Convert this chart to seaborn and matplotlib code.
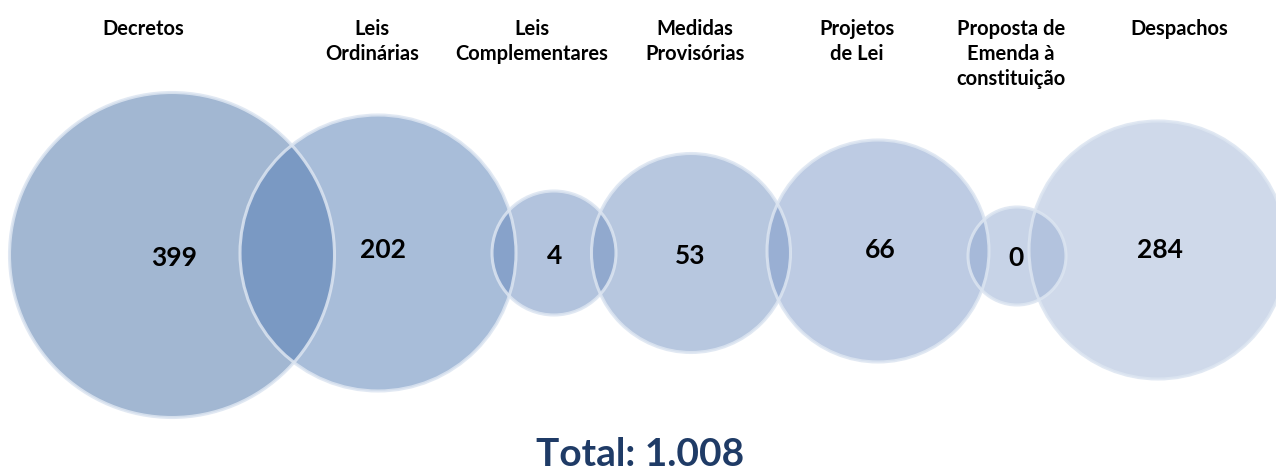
import matplotlib
matplotlib.use("Agg")
import matplotlib.pyplot as plt
import seaborn as sns
import pandas as pd

# Dados do gráfico
tipos = ["Decretos", "Leis Ordinárias", "Leis Complementares", "Medidas Provisórias",
         "Projetos de Lei", "Proposta de Emenda à constituição", "Despachos"]
rotulos = ["Decretos", "Leis\nOrdinárias", "Leis\nComplementares", "Medidas\nProvisórias",
           "Projetos\nde Lei", "Proposta de\nEmenda à\nconstituição", "Despachos"]
quantidades = [399, 202, 4, 53, 66, 0, 284]
total = "1.008"

# Layout (em pixels da figura)
centro_x = [172, 378, 554, 691, 878, 1017, 1158]
centro_y = [255, 253, 253, 253, 251, 256, 250]
diametro = [325, 276, 124, 199, 222, 98, 258]
rotulo_x = [143, 372, 532, 695, 857, 1011, 1179]
valor_x = [174, 383, 555, 690, 880, 1016, 1160]
valor_y = [258, 250, 256, 256, 250, 258, 250]
cores = ["#4771A7", "#537DB5", "#6789BD", "#7191C1", "#7D99C9", "#91A9D1", "#A1B5D7"]

sns.set_theme(style="white")
plt.rcParams["font.family"] = ["Lato", "DejaVu Sans"]

W, H, DPI = 1276, 470, 100
fig = plt.figure(figsize=(W / DPI, H / DPI), dpi=DPI)
ax = fig.add_axes([0, 0, 1, 1])

# área do marcador em pt^2 a partir do diâmetro em pixels
areas = [(d * 72 / DPI) ** 2 for d in diametro]

df = pd.DataFrame({"tipo": tipos, "x": centro_x, "y": centro_y, "qtd": quantidades})

sns.scatterplot(data=df, x="x", y="y", hue="tipo", palette=dict(zip(tipos, cores)),
                size="tipo", sizes=dict(zip(tipos, areas)), alpha=0.5,
                linewidth=0, legend=False, ax=ax, zorder=2)

# contorno claro dos círculos
ax.scatter(df["x"], df["y"], s=areas, facecolors="none",
           edgecolors="#DCE5F1", linewidths=2.2, alpha=0.85, zorder=3)

for xv, yv, q in zip(valor_x, valor_y, quantidades):
    ax.text(xv, yv, str(q), ha="center", va="center", fontsize=19,
            fontweight="bold", color="black", zorder=4)

for xr, lab in zip(rotulo_x, rotulos):
    ax.text(xr, 19, lab, ha="center", va="top", fontsize=14.5, fontweight="bold",
            color="black", linespacing=1.32, zorder=4)

ax.text(640, 454, "Total: " + total, ha="center", va="center", fontsize=28,
        fontweight="bold", color="#1F3B66", zorder=4)

ax.set_xlim(0, W)
ax.set_ylim(H, 0)
ax.set_axis_off()

fig.savefig("out.png", dpi=DPI)
